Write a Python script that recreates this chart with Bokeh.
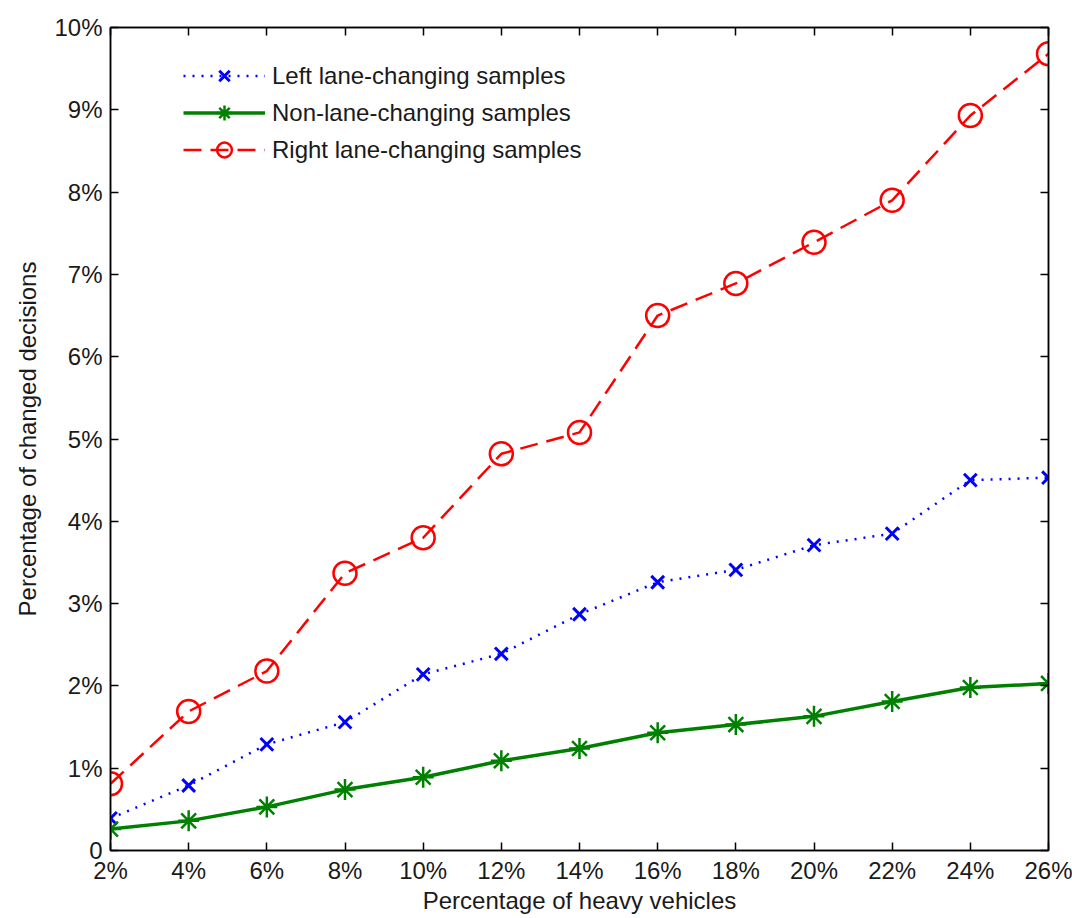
from bokeh.plotting import figure
from bokeh.models import LinearAxis, FixedTicker, Range1d, Legend, LegendItem, CustomLabelingPolicy
from bokeh.embed import file_html
from bokeh.resources import INLINE

heavy_pct = [2, 4, 6, 8, 10, 12, 14, 16, 18, 20, 22, 24, 26]
left_lc = [0.39, 0.79, 1.29, 1.56, 2.14, 2.39, 2.87, 3.26, 3.41, 3.71, 3.85, 4.50, 4.53]
non_lc = [0.26, 0.36, 0.53, 0.74, 0.89, 1.09, 1.24, 1.43, 1.53, 1.63, 1.81, 1.98, 2.03]
right_lc = [0.81, 1.69, 2.18, 3.37, 3.80, 4.82, 5.08, 6.50, 6.89, 7.39, 7.90, 8.93, 9.68]
y_ticks = [0, 1, 2, 3, 4, 5, 6, 7, 8, 9, 10]
x_label = "Percentage of heavy vehicles"
y_label = "Percentage of changed decisions"

FONT = "Liberation Sans"
FS = "24px"

p = figure(width=1072, height=918, output_backend="svg", toolbar_location=None,
           x_range=Range1d(2, 26), y_range=Range1d(0, 10),
           min_border_left=110, min_border_right=24, min_border_top=27, min_border_bottom=68,
           x_axis_label=x_label, y_axis_label=y_label)
p.grid.visible = False
p.outline_line_color = "black"
p.outline_line_width = 1.5
p.background_fill_color = "white"
p.border_fill_color = "white"

xt = FixedTicker(ticks=heavy_pct, minor_ticks=[])
yt = FixedTicker(ticks=y_ticks, minor_ticks=[])
p.xaxis.ticker = xt
p.yaxis.ticker = yt
p.xaxis.major_label_overrides = {v: f"{v}%" for v in heavy_pct}
p.yaxis.major_label_overrides = {v: ("0" if v == 0 else f"{v}%") for v in y_ticks}

for ax in (p.xaxis[0], p.yaxis[0]):
    ax.major_tick_in = 8
    ax.major_tick_out = 0
    ax.minor_tick_line_color = None
    ax.axis_line_color = "black"
    ax.axis_line_width = 1.5
    ax.major_tick_line_width = 1.5
    ax.major_label_text_font = FONT
    ax.major_label_text_font_size = FS
    ax.major_label_text_color = "#1a1a1a"
    ax.axis_label_text_font = FONT
    ax.axis_label_text_font_size = FS
    ax.axis_label_text_font_style = "normal"
    ax.axis_label_text_color = "#1a1a1a"
p.xaxis.major_label_standoff = 6
p.yaxis.major_label_standoff = 8
p.xaxis.axis_label_standoff = 0
p.yaxis.axis_label_standoff = 10

hide_all = CustomLabelingPolicy(code="for (const i of Array.from(indices)) indices.unset(i); return indices;")
top = LinearAxis(ticker=xt, major_tick_in=8, major_tick_out=0, minor_tick_line_color=None,
                 axis_line_width=1.5, major_tick_line_width=1.5,
                 major_label_standoff=0, major_label_policy=hide_all)
right = LinearAxis(ticker=yt, major_tick_in=8, major_tick_out=0, minor_tick_line_color=None,
                   axis_line_width=1.5, major_tick_line_width=1.5,
                   major_label_standoff=0, major_label_policy=hide_all)
p.add_layout(top, "above")
p.add_layout(right, "right")

l1 = p.line(heavy_pct, left_lc, line_color="blue", line_width=2.5, line_dash="2 7")
m1 = p.scatter(heavy_pct, left_lc, marker="x", size=18, line_color="blue", line_width=3)
l2 = p.line(heavy_pct, non_lc, line_color="green", line_width=3.5)
m2 = p.scatter(heavy_pct, non_lc, marker="asterisk", size=21, line_color="green", line_width=2.5)
l3 = p.line(heavy_pct, right_lc, line_color="red", line_width=2.5, line_dash="18 9")
m3 = p.scatter(heavy_pct, right_lc, marker="circle", size=23, line_color="red", line_width=2.5,
               fill_color=None)

legend = Legend(items=[
    LegendItem(label="Left lane-changing samples", renderers=[l1, m1]),
    LegendItem(label="Non-lane-changing samples", renderers=[l2, m2]),
    LegendItem(label="Right lane-changing samples", renderers=[l3, m3]),
], location=(73, 682))
legend.border_line_color = None
legend.background_fill_alpha = 0
legend.label_text_font = FONT
legend.label_text_font_size = FS
legend.label_text_color = "#1a1a1a"
legend.glyph_width = 82
legend.glyph_height = 37
legend.spacing = 0
legend.label_standoff = 7
legend.label_height = 37
legend.padding = 0
legend.margin = 0
p.add_layout(legend)

open("out.html", "w").write(file_html(p, INLINE))
